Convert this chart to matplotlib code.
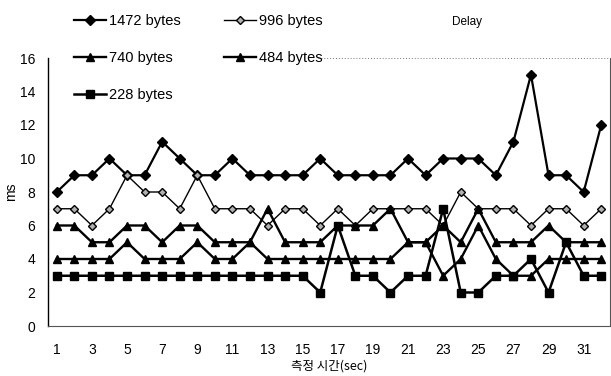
import matplotlib
matplotlib.use("Agg")
import matplotlib.pyplot as plt

# Measurement time (sec)
seconds = list(range(1, 33))

# Delay per packet size (ms)
delay_1472 = [8, 9, 9, 10, 9, 9, 11, 10, 9, 9, 10, 9, 9, 9, 9, 10,
              9, 9, 9, 9, 10, 9, 10, 10, 10, 9, 11, 15, 9, 9, 8, 12]
delay_996 = [7, 7, 6, 7, 9, 8, 8, 7, 9, 7, 7, 7, 6, 7, 7, 6,
             7, 6, 7, 7, 7, 7, 6, 8, 7, 7, 7, 6, 7, 7, 6, 7]
delay_740 = [6, 6, 5, 5, 6, 6, 5, 6, 6, 5, 5, 5, 4, 4, 4, 4,
             4, 4, 4, 4, 5, 5, 6, 5, 7, 5, 5, 5, 6, 5, 5, 5]
delay_484 = [4, 4, 4, 4, 5, 4, 4, 4, 5, 4, 4, 5, 7, 5, 5, 5,
             6, 6, 6, 7, 5, 5, 3, 4, 6, 4, 3, 3, 4, 4, 4, 4]
delay_228 = [3, 3, 3, 3, 3, 3, 3, 3, 3, 3, 3, 3, 3, 3, 3, 2,
             6, 3, 3, 2, 3, 3, 7, 2, 2, 3, 3, 4, 2, 5, 3, 3]

series_labels = ["1472 bytes", "996 bytes", "740 bytes", "484 bytes", "228 bytes"]
y_ticks = [0, 2, 4, 6, 8, 10, 12, 14, 16]
x_ticks = list(range(1, 33, 2))

plt.rcParams["font.family"] = ["Liberation Sans", "DejaVu Sans"]

W, H = 611, 376
fig = plt.figure(figsize=(W / 100, H / 100), dpi=100)
ax = fig.add_axes([48 / W, 1 - 326 / H, (610 - 48) / W, (326 - 58) / H])

h1, = ax.plot(seconds, delay_1472, color="black", lw=1.6, marker="D", ms=4.8,
              mfc="black", mec="black", label=series_labels[0])
h2, = ax.plot(seconds, delay_996, color="black", lw=1.0, marker="D", ms=4.2,
              mfc="#b0b0b0", mec="black", mew=1.0, label=series_labels[1])
h3, = ax.plot(seconds, delay_740, color="black", lw=1.7, marker="^", ms=5.5,
              mfc="black", mec="black", label=series_labels[2])
h4, = ax.plot(seconds, delay_484, color="black", lw=1.7, marker="^", ms=5.5,
              mfc="black", mec="black", label=series_labels[3])
h5, = ax.plot(seconds, delay_228, color="black", lw=1.8, marker="s", ms=5.5,
              mfc="black", mec="black", label=series_labels[4])

ax.set_xlim(0.5, 32.5)
ax.set_ylim(0, 16)
ax.set_yticks(y_ticks)
ax.set_xticks(x_ticks)
ax.set_xticklabels([str(t) for t in x_ticks])
ax.tick_params(axis="x", length=0, pad=12, labelsize=10)
ax.tick_params(axis="y", length=0, pad=9, labelsize=10)

ax.spines["left"].set_linewidth(1.0)
ax.spines["left"].set_color("black")
for side in ("bottom", "right"):
    ax.spines[side].set_linestyle((0, (1, 1)))
    ax.spines[side].set_color("#555555")
    ax.spines[side].set_linewidth(0.8)
ax.spines["top"].set_visible(False)
ax.axhline(16, xmin=0.48, xmax=1.0, color="#777777", lw=0.7,
           ls=(0, (1, 2)), clip_on=False)

fig.text(11 / W, 1 - 192 / H, "ms", fontsize=10, rotation=90,
         ha="center", va="center")
ax.set_xlabel("측정 시간(sec)", fontsize=9, labelpad=2,
              family=["Noto Sans CJK KR", "DejaVu Sans"])

fig.text(467 / W, 1 - 22 / H, "Delay", fontsize=8.5, ha="center", va="center")

# Legend filled column by column: left column 1472/740/228, right column 996/484
fig.legend(handles=[h1, h3, h5, h2, h4], loc="upper left", ncol=2,
           bbox_to_anchor=(62 / W, 1 - 2 / H), frameon=False, fontsize=10.5,
           handlelength=2.2, handletextpad=0.2, columnspacing=3.0,
           labelspacing=1.6, borderpad=0.3)

fig.savefig("out.png", dpi=100)
